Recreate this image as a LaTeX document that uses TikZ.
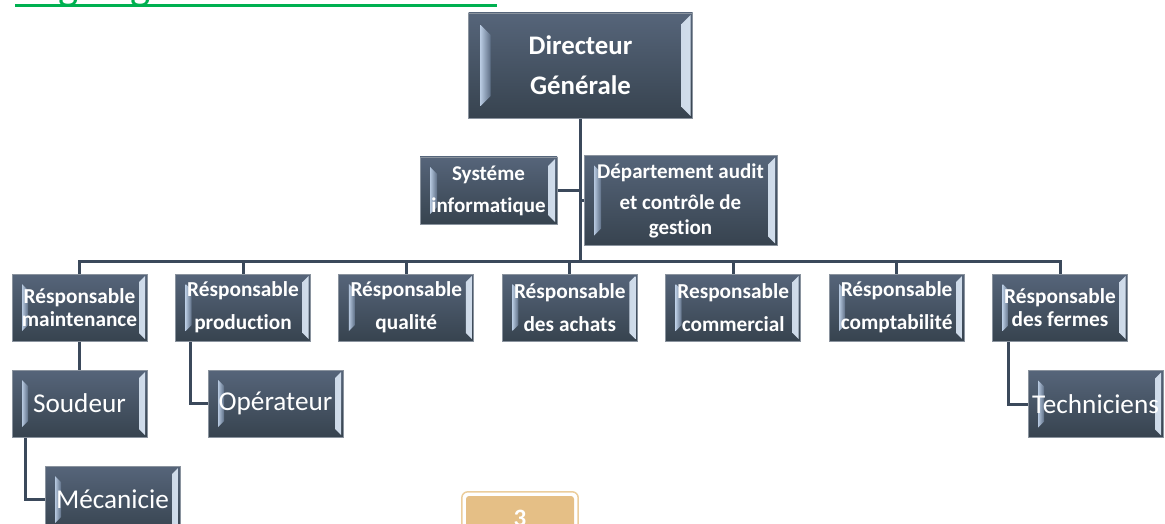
\documentclass[tikz,border=0pt]{standalone}
\usepackage{fontspec}
\setmainfont{Carlito}[RawFeature=-liga]
\pgfdeclarelayer{background}
\pgfsetlayers{background,main}

\definecolor{boxtop}{HTML}{56657A}
\definecolor{boxbot}{HTML}{37434F}
\definecolor{boxborder}{HTML}{8A939E}
\definecolor{bevout}{HTML}{D2DEEC}
\definecolor{bevin}{HTML}{8394AB}
\definecolor{slvlight}{HTML}{B6C8DF}
\definecolor{slvdark}{HTML}{5E6F86}
\definecolor{linkcol}{HTML}{3B495B}
\definecolor{titlegreen}{HTML}{00B050}
\definecolor{pagefill}{HTML}{E5BF86}
\definecolor{pageedge}{HTML}{EBCD9C}

% bevelled face: lit right face (#1) and thin lit sliver on the left (#2..#3)
\newcommand\bevelpic[3]{%
  \shade[left color=bevin,right color=bevout]
    ([xshift=-2pt,yshift=-2pt]path picture bounding box.north east) --
    ([xshift=-2pt,yshift=2pt]path picture bounding box.south east) --
    ([xshift=-#1,yshift=#1]path picture bounding box.south east) --
    ([xshift=-#1,yshift=-#1]path picture bounding box.north east) -- cycle;
  \shade[left color=slvlight,right color=slvdark]
    ([xshift=#2,yshift=-#2]path picture bounding box.north west) --
    ([xshift=#3,yshift=-#3]path picture bounding box.north west) --
    ([xshift=#3,yshift=#3]path picture bounding box.south west) --
    ([xshift=#2,yshift=#2]path picture bounding box.south west) -- cycle;
}

\tikzset{
  unit/.style n args={3}{draw=boxborder, line width=0.7pt, top color=boxtop,
    bottom color=boxbot, text=white, align=center, inner sep=0pt,
    path picture={\bevelpic{#1}{#2}{#3}}},
  headbox/.style={unit={11pt}{12pt}{22pt}, minimum width=224pt, minimum height=105pt,
    font=\bfseries\fontsize{26.8}{40}\selectfont},
  staffbox/.style={unit={9pt}{10pt}{17pt}},
  mgrbox/.style={unit={8pt}{10pt}{16pt}, minimum width=135pt, minimum height=67pt},
  tightlines/.style={font=\bfseries\fontsize{21.3}{23}\selectfont},
  widelines/.style={font=\bfseries\fontsize{21.3}{33}\selectfont},
  workbox/.style={unit={8pt}{10pt}{16pt}, minimum width=135pt, minimum height=67pt,
    font=\fontsize{27.2}{30}\selectfont},
  link/.style={draw=linkcol, line width=3pt},
  pagebox/.style={fill=pagefill, rounded corners=3pt, minimum width=108pt,
    minimum height=44pt, inner sep=0pt, text=white,
    font=\bfseries\fontsize{25}{28}\selectfont},
}

\begin{document}
\begin{tikzpicture}[x=1pt,y=-1pt]
\useasboundingbox (0,0) rectangle (1165,524);

% heading, cut by the top edge of the page
\node[anchor=base west, inner sep=0pt, text=titlegreen,
      font=\fontsize{43}{50}\selectfont] (title) at (15,0) {Organigramme de la société};
\draw[titlegreen, line width=3pt] ([yshift=-5.5pt]title.base west) -- ++(482,0);

% top of the chart
\node[headbox] (dg) at (580.5,65.5) {Directeur\\Générale};
\node[staffbox, minimum width=137pt, minimum height=67pt,
      font=\bfseries\fontsize{21}{32}\selectfont] (si) at (488.5,190.5) {Systéme\\informatique};
\node[staffbox, minimum width=193pt, minimum height=90pt,
      font=\bfseries\fontsize{21}{25}\selectfont] (dep) at (680.5,200.5)
      {Département audit\\[6pt]et contrôle de\\gestion};

% managers
\node[mgrbox, tightlines] (rm)  at (79.5,307.5)  {Résponsable\\maintenance};
\node[mgrbox, widelines]  (rp)  at (243,307.5)   {Résponsable\\production};
\node[mgrbox, widelines]  (rq)  at (406.3,307.5) {Résponsable\\qualité};
\node[mgrbox, widelines]  (ra)  at (569.8,307.5) {Résponsable\\des achats};
\node[mgrbox, widelines]  (rc)  at (733.2,307.5) {Responsable\\commercial};
\node[mgrbox, widelines]  (rcp) at (896.6,307.5) {Résponsable\\comptabilité};
\node[mgrbox, tightlines] (rf)  at (1060,307.5)  {Résponsable\\des fermes};

% staff
\node[workbox] (sd) at (79.5,403.5)  {Soudeur};
\node[workbox] (op) at (275.5,403.5) {Opérateur};
\node[workbox] (te) at (1095.5,404)  {Techniciens};
\node[workbox] (me) at (112.5,499.5) {Mécanicie};

% page number
\node[pagebox] (pg) at (520,518) {3};
\draw[pageedge, line width=1.5pt, rounded corners=6pt]
  ([shift={(-4pt,4pt)}]pg.north west) rectangle ([shift={(4pt,-4pt)}]pg.south east);

% connectors
\begin{pgfonlayer}{background}
\coordinate (bus) at (580.5,261);
\draw[link] (dg.south) -- (bus);
\draw[link] (si.east) -- (si.east -| dg.south);
\draw[link] (dep.west) -- (dep.west -| dg.south);
\foreach \n in {rm,rp,rq,ra,rc,rcp,rf} \draw[link] (bus) -| (\n.north);
\draw[link] (rm.south) -- (sd.north);
\draw[link] ([xshift=14pt]sd.south west) |- (me.west);
\draw[link] ([xshift=15pt]rp.south west) |- (op.west);
\draw[link] ([xshift=16pt]rf.south west) |- (te.west);
\end{pgfonlayer}
\end{tikzpicture}
\end{document}
